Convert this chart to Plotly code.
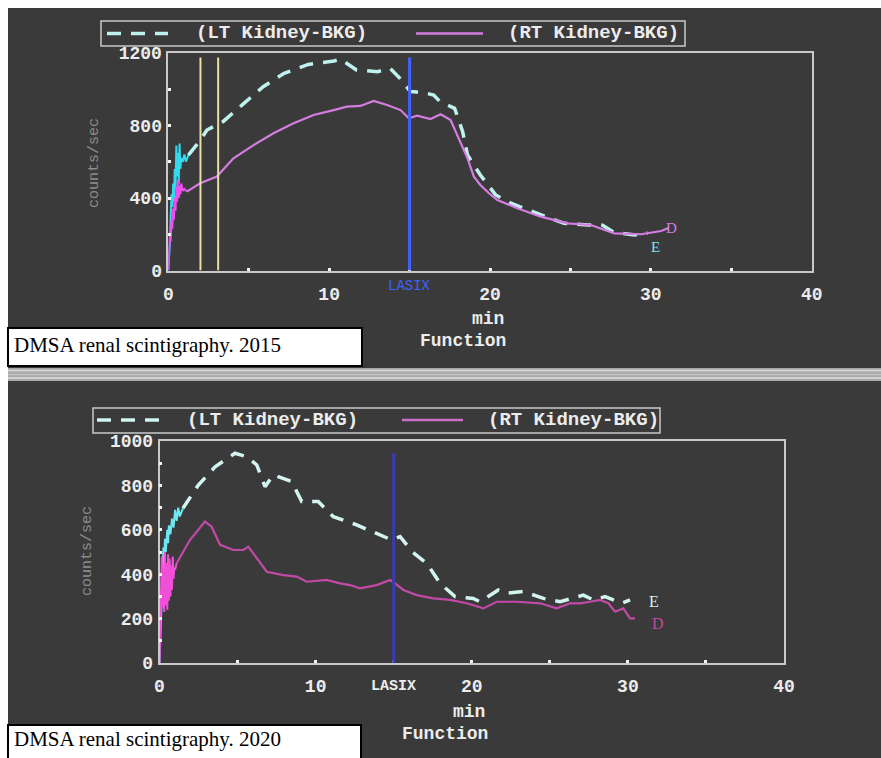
import plotly.graph_objects as go

# ---------------- DATA ----------------
# 2015 panel (top)
lt15_early_t = [0.0, 0.1, 0.15, 0.2, 0.25, 0.3, 0.35, 0.4, 0.45, 0.5, 0.55, 0.6, 0.65, 0.7, 0.75, 0.8, 0.9, 1.0, 1.1, 1.25]
lt15_early_v = [0, 150, 300, 420, 350, 480, 380, 560, 450, 690, 520, 650, 480, 700, 560, 620, 600, 640, 600, 637]
lt15_t = [1.25, 2.0, 2.4, 3.4, 4.7, 5.9, 7.2, 8.7, 10.3, 10.7, 11.7, 13.0, 13.8, 14.4, 15.05, 15.3, 16.1, 16.5,
          16.9, 17.8, 18.3, 18.6, 19.4, 20.35, 21.3, 22.2, 23.2, 24.6, 26.1, 27.0, 27.7, 29.0, 29.8]
lt15_v = [637, 720, 775, 821, 922, 1014, 1088, 1137, 1156, 1167, 1106, 1097, 1115, 1060, 987, 986, 977, 968,
          931, 895, 766, 637, 527, 417, 371, 340, 306, 260, 251, 250, 211, 196, 207]
rt15_early_t = [0.0, 0.05, 0.1, 0.15, 0.2, 0.25, 0.3, 0.35, 0.4, 0.45, 0.5, 0.55, 0.6, 0.65, 0.7, 0.75, 0.8, 0.9, 1.0, 1.15]
rt15_early_v = [0, 120, 200, 160, 280, 230, 340, 280, 400, 330, 460, 380, 500, 400, 470, 420, 480, 440, 450, 435]
rt15_t = [1.15, 1.98, 3.02, 4.05, 5.3, 6.54, 7.79, 9.03, 10.28, 11.11, 11.94, 12.77, 13.6, 14.44, 14.95, 15.47,
          16.3, 16.93, 17.55, 18.07, 18.6, 19.0, 19.4, 19.94, 20.46, 21.7, 23.16, 24.82, 26.27, 27.73, 29.39, 30.64, 31.1]
rt15_v = [435, 481, 518, 619, 692, 757, 812, 858, 885, 904, 908, 935, 913, 885, 840, 854,
          836, 862, 830, 729, 619, 518, 472, 426, 389, 343, 297, 260, 251, 205, 200, 218, 234]
marker15_t = [2.0, 3.1]   # yellow frame markers
lasix_t = 15.0

# 2020 panel (bottom)
lt20_early_t = [0.0, 0.1, 0.2, 0.25, 0.3, 0.35, 0.4, 0.5, 0.55, 0.6, 0.7, 0.8, 0.9, 1.0, 1.1, 1.2, 1.3, 1.5]
lt20_early_v = [0, 250, 450, 520, 470, 560, 500, 600, 540, 620, 580, 650, 610, 690, 640, 700, 660, 697]
lt20_t = [1.5, 2.49, 3.56, 4.84, 5.59, 6.23, 6.76, 7.29, 8.47, 9.11, 10.17, 11.13, 12.63, 13.91, 14.88, 15.41,
          16.2, 17.12, 17.97, 18.93, 20.1, 20.53, 21.7, 22.24, 23.31, 24.59, 25.66, 27.15, 27.79, 28.54, 29.07, 29.61, 30.14]
lt20_v = [697, 802, 884, 945, 929, 892, 794, 847, 817, 727, 727, 659, 622, 584, 554, 569,
          500, 449, 359, 299, 291, 276, 329, 314, 322, 291, 276, 306, 284, 299, 284, 269, 284]
rt20_early_t = [0.0, 0.05, 0.1, 0.15, 0.2, 0.25, 0.3, 0.35, 0.4, 0.45, 0.5, 0.55, 0.6, 0.65, 0.7, 0.75, 0.8, 0.85, 0.9, 0.95, 1.0, 1.1]
rt20_early_v = [0, 210, 300, 480, 250, 420, 230, 500, 260, 450, 240, 490, 280, 470, 300, 440, 330, 480, 380, 430, 420, 449]
rt20_t = [1.1, 1.95, 2.91, 3.34, 3.88, 4.73, 5.37, 5.69, 6.23, 6.87, 7.93, 8.79, 9.43, 10.71, 11.56, 12.2, 12.84,
          13.91, 14.77, 15.09, 15.62, 16.48, 17.54, 18.61, 19.68, 20.74, 21.6, 22.88, 24.38, 25.44, 26.3, 26.94,
          27.58, 28.22, 28.75, 29.18, 29.71, 30.14, 30.46]
rt20_v = [449, 554, 637, 614, 532, 509, 509, 524, 472, 411, 396, 389, 366, 374, 359, 351, 336,
          351, 374, 359, 329, 306, 291, 284, 269, 246, 276, 276, 269, 246, 269, 269,
          276, 284, 269, 231, 246, 201, 201]

x_ticks = [0, 10, 20, 30, 40]
captions = ["DMSA renal scintigraphy. 2015", "DMSA renal scintigraphy. 2020"]
series_names = ["(LT Kidney-BKG)", "(RT Kidney-BKG)"]

# ---------------- STYLE ----------------
W, H = 881, 758
DARK = "#3a3a3a"
FRAME = "#c9c9c9"
TXT = "#ececec"
MONO = "Liberation Mono"
LT15_C, RT15_C = "#bff2ee", "#d47de0"
LT20_C, RT20_C = "#d2f4f0", "#c24aa6"
DASH = "14px,10px"
def px(x): return x / W
def py(y): return 1 - y / H

fig = go.Figure()

# Top traces
fig.add_trace(go.Scatter(x=lt15_early_t, y=lt15_early_v, mode="lines", line=dict(color="#35d9ee", width=2),
                         showlegend=False, xaxis="x", yaxis="y"))
fig.add_trace(go.Scatter(x=rt15_early_t, y=rt15_early_v, mode="lines", line=dict(color="#f04ef0", width=2),
                         showlegend=False, xaxis="x", yaxis="y"))
fig.add_trace(go.Scatter(x=lt15_t, y=lt15_v, mode="lines", name=series_names[0], showlegend=False,
                         line=dict(color=LT15_C, width=3.5, dash=DASH), xaxis="x", yaxis="y"))
fig.add_trace(go.Scatter(x=rt15_t, y=rt15_v, mode="lines", name=series_names[1], showlegend=False,
                         line=dict(color=RT15_C, width=2.2), xaxis="x", yaxis="y"))

# Bottom traces
fig.add_trace(go.Scatter(x=lt20_early_t, y=lt20_early_v, mode="lines", line=dict(color="#6de8f2", width=2),
                         showlegend=False, xaxis="x2", yaxis="y2"))
fig.add_trace(go.Scatter(x=rt20_early_t, y=rt20_early_v, mode="lines", line=dict(color="#f050d8", width=2),
                         showlegend=False, xaxis="x2", yaxis="y2"))
fig.add_trace(go.Scatter(x=lt20_t, y=lt20_v, mode="lines", name=series_names[0], showlegend=False,
                         line=dict(color=LT20_C, width=3.5, dash=DASH), xaxis="x2", yaxis="y2"))
fig.add_trace(go.Scatter(x=rt20_t, y=rt20_v, mode="lines", name=series_names[1], showlegend=False,
                         line=dict(color=RT20_C, width=2.2), xaxis="x2", yaxis="y2"))

tickfont = dict(family=MONO, size=18, color=TXT, weight="bold")
def xa(domain, anchor):
    return dict(domain=domain, anchor=anchor, range=[0, 40], tickvals=x_ticks, showgrid=False, zeroline=False,
                showline=True, mirror=True, linecolor=FRAME, linewidth=1.5,
                ticks="inside", ticklen=3, tickwidth=3, tickcolor="#f4f4f4",
                minor=dict(dtick=5, ticks="inside", ticklen=3, tickwidth=3, tickcolor="#f4f4f4"),
                tickfont=tickfont, ticklabelstandoff=6, fixedrange=True, automargin=False)
def ya(domain, anchor, rng, dt, mdt):
    return dict(domain=domain, anchor=anchor, range=rng, dtick=dt, showgrid=False, zeroline=False,
                showline=True, mirror=True, linecolor=FRAME, linewidth=1.5,
                ticks="inside", ticklen=3, tickwidth=3, tickcolor="#f4f4f4",
                minor=dict(dtick=mdt, ticks="inside", ticklen=3, tickwidth=3, tickcolor="#f4f4f4"),
                tickfont=tickfont, ticklabelstandoff=1, fixedrange=True, automargin=False)

fig.update_layout(
    width=W, height=H, margin=dict(l=0, r=0, t=0, b=0, pad=0, autoexpand=False),
    paper_bgcolor="white", plot_bgcolor=DARK, showlegend=False,
    xaxis=xa([px(168.3), px(811.7)], "y"),
    yaxis=ya([py(270.5), py(53)], "x", [0, 1200], 400, 200),
    xaxis2=xa([px(159.5), px(784)], "y2"),
    yaxis2=ya([py(663), py(441)], "x2", [0, 1000], 200, 100),
)

shapes = []
# dark panels
shapes.append(dict(type="rect", xref="paper", yref="paper", x0=px(8), x1=1, y0=py(368), y1=py(8),
                   fillcolor=DARK, line=dict(width=0), layer="below"))
shapes.append(dict(type="rect", xref="paper", yref="paper", x0=px(8), x1=1, y0=0, y1=py(380),
                   fillcolor=DARK, line=dict(width=0), layer="below"))
# separator band
shapes.append(dict(type="rect", xref="paper", yref="paper", x0=px(8), x1=1, y0=py(381), y1=py(368),
                   fillcolor="#a9a9a9", line=dict(width=0), layer="below"))
for yy, c in [(370.5, "#dadada"), (374.5, "#c4c4c4"), (378, "#e2e2e2")]:
    shapes.append(dict(type="line", xref="paper", yref="paper", x0=px(8), x1=1, y0=py(yy), y1=py(yy),
                       line=dict(color=c, width=1.5), layer="below"))
# yellow markers and LASIX lines
for t in marker15_t:
    shapes.append(dict(type="line", xref="x", yref="y", x0=t, x1=t, y0=0, y1=1175,
                       line=dict(color="#e9dfa0", width=2)))
shapes.append(dict(type="line", xref="x", yref="y", x0=lasix_t, x1=lasix_t, y0=0, y1=1175,
                   line=dict(color="#3f61ff", width=3)))
shapes.append(dict(type="line", xref="x2", yref="y2", x0=lasix_t, x1=lasix_t, y0=0, y1=945,
                   line=dict(color="#3b3bb0", width=3)))
# caption boxes
shapes.append(dict(type="rect", xref="paper", yref="paper", x0=px(8), x1=px(362), y0=py(366), y1=py(328),
                   fillcolor="white", line=dict(color="black", width=2)))
shapes.append(dict(type="rect", xref="paper", yref="paper", x0=px(8), x1=px(361), y0=py(760), y1=py(725),
                   fillcolor="white", line=dict(color="black", width=2)))

# legend boxes (drawn like the instrument's legend)
legends = [
    dict(box=(101, 685, 21, 46), sy=33.5, lt=(107, 168), ltx=194, rt=(416, 483), rtx=506, c=(LT15_C, RT15_C)),
    dict(box=(93, 660, 408, 433), sy=420, lt=(97, 163), ltx=185, rt=(402, 463), rtx=486, c=(LT20_C, "#c86fc8")),
]
ann = []
legfont = dict(family=MONO, size=19, color=TXT, weight="bold")
for L in legends:
    x0, x1, y0, y1 = L["box"]
    shapes.append(dict(type="rect", xref="paper", yref="paper", x0=px(x0), x1=px(x1), y0=py(y1), y1=py(y0),
                       fillcolor=DARK, line=dict(color=FRAME, width=1.5)))
    shapes.append(dict(type="line", xref="paper", yref="paper", x0=px(L["lt"][0]), x1=px(L["lt"][1]),
                       y0=py(L["sy"]), y1=py(L["sy"]), line=dict(color=L["c"][0], width=3.5, dash=DASH)))
    shapes.append(dict(type="line", xref="paper", yref="paper", x0=px(L["rt"][0]), x1=px(L["rt"][1]),
                       y0=py(L["sy"]), y1=py(L["sy"]), line=dict(color=L["c"][1], width=2.5)))
    ann.append(dict(xref="paper", yref="paper", x=px(L["ltx"]), y=py(L["sy"]), xanchor="left", yanchor="middle",
                    text=series_names[0], showarrow=False, font=legfont))
    ann.append(dict(xref="paper", yref="paper", x=px(L["rtx"]), y=py(L["sy"]), xanchor="left", yanchor="middle",
                    text=series_names[1], showarrow=False, font=legfont))
fig.update_layout(shapes=shapes)

lab = dict(family=MONO, size=18, color=TXT, weight="bold")
# axis titles ("min" above "Function")
for cx_min, cx_fn, ysplit in [(488, 463, 330), (469, 445, 723)]:
    ann.append(dict(xref="paper", yref="paper", x=px(cx_min), y=py(ysplit), xanchor="center", yanchor="bottom",
                    borderpad=0, text="min", showarrow=False, font=lab))
    ann.append(dict(xref="paper", yref="paper", x=px(cx_fn), y=py(ysplit), xanchor="center", yanchor="top",
                    borderpad=0, text="Function", showarrow=False, font=lab))
for cx, cy in [(95, 163), (87, 551)]:
    ann.append(dict(xref="paper", yref="paper", x=px(cx), y=py(cy), xanchor="center", yanchor="middle",
                    text="counts/sec", showarrow=False, textangle=-90,
                    font=dict(family=MONO, size=15, color="#8c8c8c")))
# LASIX labels
ann.append(dict(xref="x", yref="paper", x=lasix_t, y=py(286), xanchor="center", yanchor="middle",
                text="LASIX", showarrow=False, font=dict(family=MONO, size=14, color="#3f61ff")))
ann.append(dict(xref="x2", yref="paper", x=lasix_t, y=py(686), xanchor="center", yanchor="middle",
                text="LASIX", showarrow=False, font=dict(family=MONO, size=15, color=TXT, weight="bold")))
# curve end labels
for xr, yr, xv, yv, t, c, s in [("x", "y", 31.3, 234, "D", RT15_C, 15), ("x", "y", 30.3, 131, "E", "#7fe6ec", 15),
                                ("x2", "y2", 31.65, 276, "E", LT20_C, 16), ("x2", "y2", 31.95, 176, "D", RT20_C, 16)]:
    ann.append(dict(xref=xr, yref=yr, x=xv, y=yv, xanchor="center", yanchor="middle", text=t, showarrow=False,
                    font=dict(family="Liberation Serif", size=s, color=c)))
# captions
ann.append(dict(xref="paper", yref="paper", x=px(12), y=py(345), xanchor="left", yanchor="middle", text=captions[0],
                showarrow=False, font=dict(family="Liberation Serif", size=21, color="black")))
ann.append(dict(xref="paper", yref="paper", x=px(12), y=py(739), xanchor="left", yanchor="middle", text=captions[1],
                showarrow=False, font=dict(family="Liberation Serif", size=21, color="black")))
fig.update_layout(annotations=ann)

fig.write_html("out.html", config={"displayModeBar": False},
               post_script="document.body.style.margin='0';document.body.style.padding='0';"
                           "document.body.style.overflow='hidden';")
